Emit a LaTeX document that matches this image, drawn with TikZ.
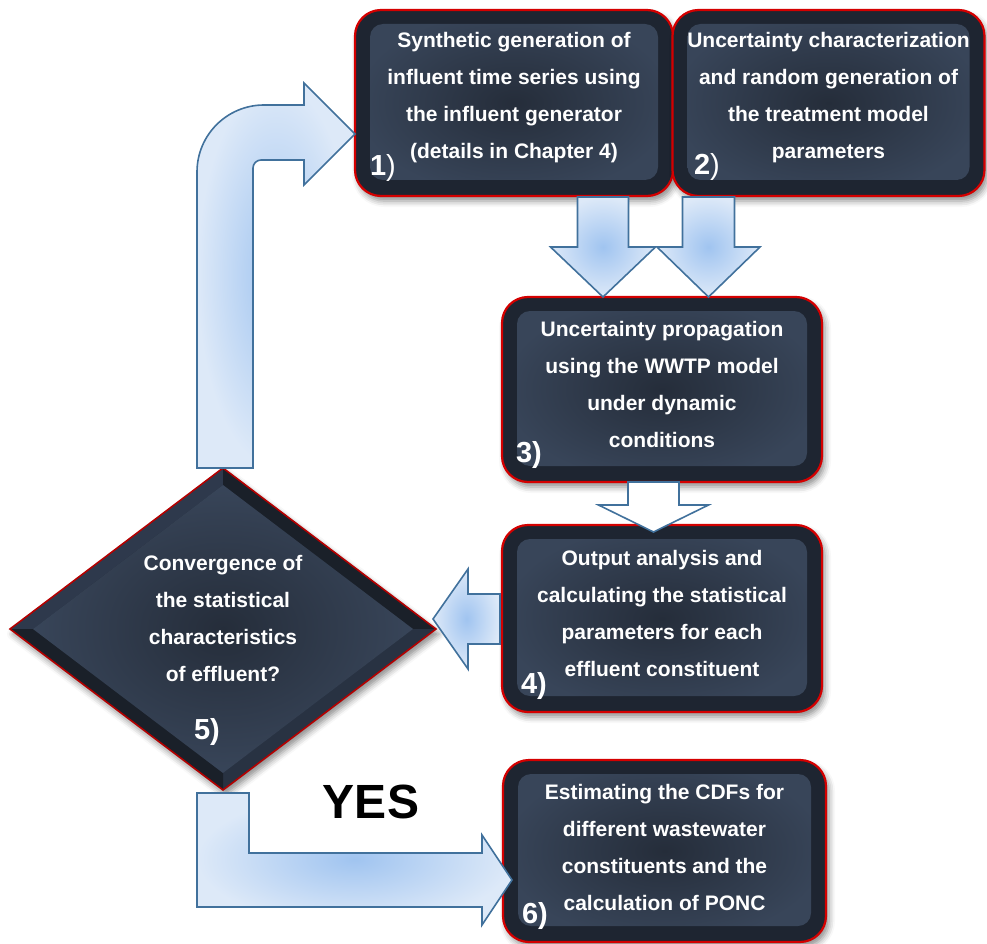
\documentclass[tikz,border=0pt]{standalone}
\usepackage{fontspec}
\setmainfont{Liberation Sans}
\usetikzlibrary{calc,shapes.geometric,shadows.blur}

\definecolor{boxred}{HTML}{D40000}
\definecolor{framedark}{HTML}{1E2531}
\definecolor{panelin}{HTML}{252D3A}
\definecolor{panelout}{HTML}{384559}
\definecolor{arrowline}{HTML}{41719C}
\definecolor{arrowin}{HTML}{A0C4F0}
\definecolor{arrowout}{HTML}{DDE9F8}
\definecolor{facetlight}{HTML}{2E394C}
\definecolor{facetdark}{HTML}{1A2029}
\definecolor{facetmid}{HTML}{283242}

% straight block arrow: #2 tail, #3 tip, #4 half shaft width, #5 half head width, #6 head length
\newcommand\blockarrow[6][]{%
  \path[#1] let \p1=(#2), \p2=(#3), \p3=($(\p2)!#6!(\p1)$) in
    ($(\p1)!#4!90:(\p2)$) -- ($(\p3)!#4!90:(\p2)$) -- ($(\p3)!#5!90:(\p2)$) -- (\p2)
    -- ($(\p3)!#5!-90:(\p2)$) -- ($(\p3)!#4!-90:(\p2)$) -- ($(\p1)!#4!-90:(\p2)$) -- cycle;}

\tikzset{
  stepbox/.style={rectangle, rounded corners=26pt, draw=boxred, line width=2.2pt,
    fill=framedark, inner sep=0pt, outer sep=0pt,
    blur shadow={shadow xshift=3pt, shadow yshift=-5pt, shadow blur radius=6pt, shadow opacity=45},
    path picture={\shade[rounded corners=13pt, inner color=panelin, outer color=panelout]
      ([xshift=15pt,yshift=-14pt]path picture bounding box.north west) rectangle
      ([xshift=-15pt,yshift=16pt]path picture bounding box.south east);}},
  steptext/.style={text=white, font=\bfseries\fontsize{21}{37}\selectfont, align=center, inner sep=0pt},
  numlabel/.style={text=white, font=\bfseries\fontsize{29}{30}\selectfont, inner sep=0pt},
  bluearrow/.style={draw=arrowline, line width=1.6pt, line join=miter, shade, shading=radial,
    inner color=arrowin, outer color=arrowout},
  whitearrow/.style={draw=arrowline, line width=1.6pt, line join=miter, fill=white},
}

\begin{document}
\begin{tikzpicture}[x=1pt, y=-1pt]
\useasboundingbox (0,0) rectangle (987,944);

% process boxes
\node[stepbox, minimum width=318pt, minimum height=186pt] (b1) at (514,103) {};
\node[stepbox, minimum width=312pt, minimum height=186pt] (b2) at (828.5,103) {};
\node[stepbox, minimum width=320pt, minimum height=185pt] (b3) at (662,389.5) {};
\node[stepbox, minimum width=320pt, minimum height=187pt] (b4) at (662,618.5) {};
\node[stepbox, minimum width=323pt, minimum height=182pt] (b6) at (664.5,851) {};

% decision diamond with bevelled facets
\node[diamond, minimum width=426pt, minimum height=322pt, inner sep=0pt, outer sep=0pt,
  fill=framedark, blur shadow={shadow xshift=3pt, shadow yshift=-5pt, shadow blur radius=6pt, shadow opacity=45}]
  (d5) at (223,629) {};
\coordinate (iL) at ($(d5.west)+(23,0)$);
\coordinate (iR) at ($(d5.east)+(-23,0)$);
\coordinate (iT) at ($(d5.north)+(0,17)$);
\coordinate (iB) at ($(d5.south)+(0,-17)$);
\fill[facetlight] (d5.west) -- (d5.north) -- (iT) -- (iL) -- cycle;
\fill[facetdark] (d5.north) -- (d5.east) -- (iR) -- (iT) -- cycle;
\fill[facetmid] (d5.east) -- (d5.south) -- (iB) -- (iR) -- cycle;
\fill[facetdark] (d5.south) -- (d5.west) -- (iL) -- (iB) -- cycle;
\shade[inner color=panelin, outer color=panelout] (iL) -- (iT) -- (iR) -- (iB) -- cycle;
\draw[draw=boxred!85!black, line width=1.6pt, line join=miter]
  (d5.west) -- (d5.north) -- (d5.east) -- (d5.south) -- cycle;

% texts
\node[steptext] (t1) at ([yshift=5pt]b1.center) {Synthetic generation of\\influent time series using\\the influent generator\\(details in Chapter 4)};
\node[steptext] (t2) at ([yshift=5pt]b2.center) {Uncertainty characterization\\and random generation of\\the treatment model\\parameters};
\node[steptext] (t3) at ([yshift=5pt]b3.center) {Uncertainty propagation\\using the WWTP model\\under dynamic\\conditions};
\node[steptext] (t4) at ([yshift=5pt]b4.center) {Output analysis and\\calculating the statistical\\parameters for each\\effluent constituent};
\node[steptext] (t6) at ([yshift=4pt]b6.center) {Estimating the CDFs for\\different wastewater\\constituents and the\\calculation of PONC};
\node[steptext] (t5) at (223,618.5) {Convergence of\\the statistical\\characteristics\\of effluent?};

\node[numlabel] (n1) at (383,168) {1\mdseries)};
\node[numlabel] (n2) at (707,167) {2\mdseries)};
\node[numlabel] (n3) at (529,455) {3)};
\node[numlabel] (n4) at (534,686) {4)};
\node[numlabel] (n5) at (207,732) {5)};
\node[numlabel] (n6) at (535,916) {6)};

\node[font=\bfseries\fontsize{48}{50}\selectfont, inner sep=0pt] (yes) at (371,802) {YES};

% connectors
\coordinate (a1t) at (603,197);   \coordinate (a1h) at (603,297);
\coordinate (a2t) at (708.5,197); \coordinate (a2h) at (708.5,297);
\coordinate (a3t) at (653.5,482); \coordinate (a3h) at (653.5,532);
\coordinate (a4t) at (500,619);   \coordinate (a4h) at (433,619);

\blockarrow[bluearrow]{a1t}{a1h}{25.5pt}{52.5pt}{50pt}
\blockarrow[bluearrow]{a2t}{a2h}{26pt}{51.5pt}{50pt}
\blockarrow[whitearrow]{a3t}{a3h}{25.5pt}{55pt}{27pt}
\blockarrow[bluearrow]{a4t}{a4h}{25pt}{50pt}{35pt}

% loop back from the decision to step 1
\path[bluearrow] (197,468) -- (197,172) .. controls (197,135) and (227,105) .. (264,105) -- (304,105)
  -- (304,83) -- (355,134) -- (304,185) -- (304,160) -- (261,160)
  .. controls (256.6,160) and (253,163.6) .. (253,168) -- (253,468) -- cycle;

% YES branch to step 6
\path[bluearrow] (197,793) -- (197,907) -- (482,907) -- (482,925) -- (512,880)
  -- (482,835) -- (482,853) -- (249,853) -- (249,793) -- cycle;
\end{tikzpicture}
\end{document}
